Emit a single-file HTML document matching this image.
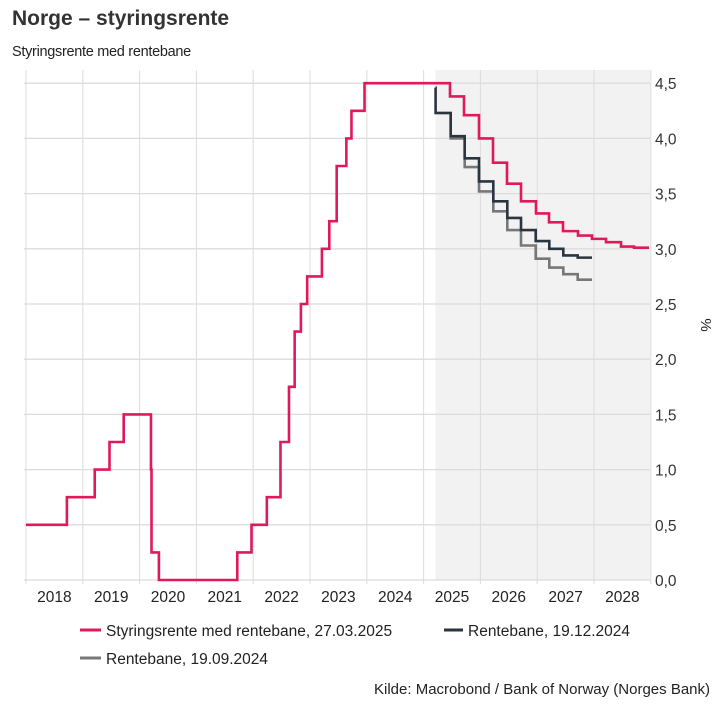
<!DOCTYPE html>
<html><head><meta charset="utf-8"><style>
body{margin:0;background:#fff;width:721px;height:710px;overflow:hidden;font-family:"Liberation Sans",Arial,sans-serif;color:#333}
</style></head><body>
<svg id="s" width="721" height="710" xmlns="http://www.w3.org/2000/svg" font-family="Liberation Sans, Arial, sans-serif">
<text x="12" y="25" font-size="21" font-weight="bold" fill="#333">Norge – styringsrente</text>
<text x="12" y="56" font-size="14.5" fill="#222" letter-spacing="-0.3">Styringsrente med rentebane</text>
<g id="g"></g>
<text x="710" y="694" font-size="15" fill="#222" text-anchor="end">Kilde: Macrobond / Bank of Norway (Norges Bank)</text>
<line x1="80" y1="630" x2="101" y2="630" stroke="#e0195a" stroke-width="3"/>
<text x="106" y="636" font-size="15.5" fill="#222">Styringsrente med rentebane, 27.03.2025</text>
<line x1="444" y1="630" x2="463" y2="630" stroke="#2b3540" stroke-width="3"/>
<text x="468" y="636" font-size="15.5" fill="#222">Rentebane, 19.12.2024</text>
<line x1="80" y1="658" x2="101" y2="658" stroke="#777" stroke-width="3"/>
<text x="106" y="664" font-size="15.5" fill="#222">Rentebane, 19.09.2024</text>
<text transform="translate(701,325) rotate(90)" font-size="15" fill="#222" text-anchor="middle">%</text>
</svg>
<script>
const X=y=>26+(y-2018)*56.8, Y=v=>580-v*110.4;
let h='';
h+=`<rect x="435.5" y="70" width="${650-435.5}" height="510" fill="#f2f2f2"/>`;
for(let v=0;v<=4.5;v+=0.5){h+=`<line x1="24" x2="650" y1="${Y(v)}" y2="${Y(v)}" stroke="#dcdcdc" stroke-width="1.3"/>`;
h+=`<text x="655" y="${Y(v)+6}" font-size="15.5" fill="#333">${v.toFixed(1).replace('.',',')}</text>`;}
for(let y=2018;y<=2029;y++){h+=`<line x1="${X(y)}" x2="${X(y)}" y1="70" y2="584" stroke="#dcdcdc" stroke-width="1"/>`;
if(y<2029)h+=`<text x="${X(y+0.5)}" y="602" font-size="15.5" fill="#222" text-anchor="middle">${y}</text>`;}
function step(pts,end,col){let d='';pts.forEach((p,i)=>{const x=p[0],y=Y(p[1]);if(i==0)d+=`M${x},${y}`;else d+=`H${x}V${y}`;});d+=`H${end}`;
return `<path d="${d}" fill="none" stroke="${col}" stroke-width="2.6" stroke-linejoin="miter"/>`;}
const hist=[[2018,0.5],[2018.72,0.75],[2019.21,1.0],[2019.47,1.25],[2019.72,1.5],[2020.2,1.0],[2020.21,0.25],[2020.34,0],[2021.72,0.25],[2021.97,0.5],[2022.24,0.75],[2022.48,1.25],[2022.63,1.75],[2022.73,2.25],[2022.84,2.5],[2022.95,2.75],[2023.21,3.0],[2023.34,3.25],[2023.47,3.75],[2023.64,4.0],[2023.73,4.25],[2023.96,4.5]].map(p=>[X(p[0]),p[1]]);
const pink=hist.concat([[450,4.38],[464,4.21],[479,4.0],[493,3.78],[507,3.59],[521,3.43],[536,3.32],[549,3.24],[563,3.16],[578,3.12],[592,3.09],[606,3.06],[621,3.02],[634,3.01]]);
const grey=[[435.5,4.23],[450.7,4.0],[464.7,3.74],[479,3.52],[493.3,3.34],[507.3,3.17],[521,3.03],[535.7,2.91],[549.3,2.83],[563.3,2.77],[577.7,2.72]];
const dark=[[435.5,4.46],[435.6,4.23],[450.7,4.02],[464.7,3.82],[479,3.61],[493.3,3.43],[507.3,3.28],[521,3.17],[535.7,3.07],[549.3,3.0],[563.3,2.94],[577.7,2.92]];
h+=step(grey,592,'#777');h+=step(dark,592,'#2b3540');h+=step(pink,649,'#e0195a');
document.getElementById('g').innerHTML=h;
</script>
</body></html>
